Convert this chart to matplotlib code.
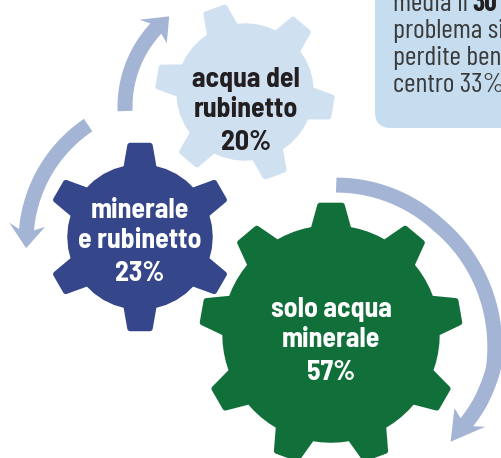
import numpy as np
import matplotlib.pyplot as plt
from matplotlib.patches import Polygon, FancyBboxPatch

# dati
labels = ['acqua del\nrubinetto', 'minerale\ne rubinetto', 'solo acqua\nminerale']
percent = [20, 23, 57]
gear_colors = ['#cfe0f1', '#36468a', '#11703a']
text_colors = ['#231f20', 'white', 'white']
box_lines = ['media il', 'problema si', 'perdite ben', 'centro 33%']
box_bold = '30%'

# gear layout (pixel coords): cx, cy, r_root, r_tip, teeth, first tooth angle, half widths
gears = [
    (245, 92, 66, 87, 6, 110, 12, 6.5),
    (140, 237, 70, 92, 6, 90, 11.5, 6.2),
    (331, 334, 106, 129, 9, 90, 9.6, 4.9),
]
text_pos = [(246, 106), (140, 237), (331, 336)]

FONT = ['Barlow Semi Condensed', 'DejaVu Sans']
BOX_FONT = ['Barlow Condensed', 'DejaVu Sans']
arrow_col = '#a3b4d4'


def pt(cx, cy, r, a):
    a = np.radians(a)
    return cx + r * np.cos(a), cy - r * np.sin(a)


def gear(cx, cy, r0, r1, n, start, bh, th):
    pts = []
    step = 360 / n
    for k in range(n):
        a = start + k * step
        pts.append(pt(cx, cy, r0, a - bh))
        pts.append(pt(cx, cy, r1, a - th))
        pts.append(pt(cx, cy, r1, a + th))
        pts.append(pt(cx, cy, r0, a + bh))
        for b in np.linspace(a + bh, a + step - bh, 5)[1:-1]:
            pts.append(pt(cx, cy, r0, b))
    return pts


def arc_arrow(ax, cx, cy, a0, ae, a1, w=15, head_w=36, ctrl_a=None, ctrl_r=None, r=None):
    s = np.sign(a1 - a0)
    angs = np.linspace(a0, ae, 80)
    if r is not None:
        ctrl_a, ctrl_r = [a0, a1], [r, r]
    order = np.argsort(ctrl_a)
    rad = lambda a: np.interp(a, np.array(ctrl_a)[order], np.array(ctrl_r)[order])
    outer = [pt(cx, cy, rad(a) + w / 2, a) for a in angs]
    inner = [pt(cx, cy, rad(a) - w / 2, a) for a in angs[::-1]]
    head = [pt(cx, cy, rad(ae) + head_w / 2, ae - s * 2), pt(cx, cy, rad(a1), a1),
            pt(cx, cy, rad(ae) - head_w / 2, ae - s * 2)]
    ax.add_patch(Polygon(outer + head + inner, closed=True, color=arrow_col, lw=0))


fig = plt.figure(figsize=(5.02, 4.58), dpi=100)
ax = fig.add_axes([0, 0, 1, 1])
ax.set_xlim(0, 502)
ax.set_ylim(458, 0)
ax.axis('off')

arc_arrow(ax, 240, 107, 182, 137, 128, r=115)
arc_arrow(ax, 167, 242, 124, 175, 182.5, r=141)
arc_arrow(ax, 331, 334, 88, -33, -42,
          ctrl_a=[88, 45, 10, -12, -25, -33, -42],
          ctrl_r=[149, 153, 161, 166, 164, 162, 161])

# riquadro in alto a destra
ax.add_patch(FancyBboxPatch((375, -30), 160, 158,
                            boxstyle='round,pad=0,rounding_size=16',
                            fc='#c6ddf0', ec='none'))
for i, line in enumerate(box_lines):
    ax.text(393, 11 + 27 * i, line, fontsize=20, family=BOX_FONT, color='#3a3a3a',
            va='baseline')
ax.text(472, 11, box_bold, fontsize=20, family=BOX_FONT, weight='bold',
        color='#231f20', va='baseline')

for g, lab, p, fc, tc, (tx, ty) in zip(gears, labels, percent, gear_colors,
                                       text_colors, text_pos):
    ax.add_patch(Polygon(gear(*g), closed=True, fc=fc, ec=fc, lw=4, joinstyle='round'))
    l1, l2 = lab.split('\n')
    ax.text(tx, ty - 19, l1, ha='center', va='baseline', fontsize=20,
            family=FONT, weight='bold', color=tc)
    ax.text(tx, ty + 11, l2, ha='center', va='baseline', fontsize=20,
            family=FONT, weight='bold', color=tc)
    ax.text(tx, ty + 44, f'{p}%', ha='center', va='baseline', fontsize=20,
            family=FONT, weight='bold', color=tc)

fig.savefig('out.png', dpi=100)
